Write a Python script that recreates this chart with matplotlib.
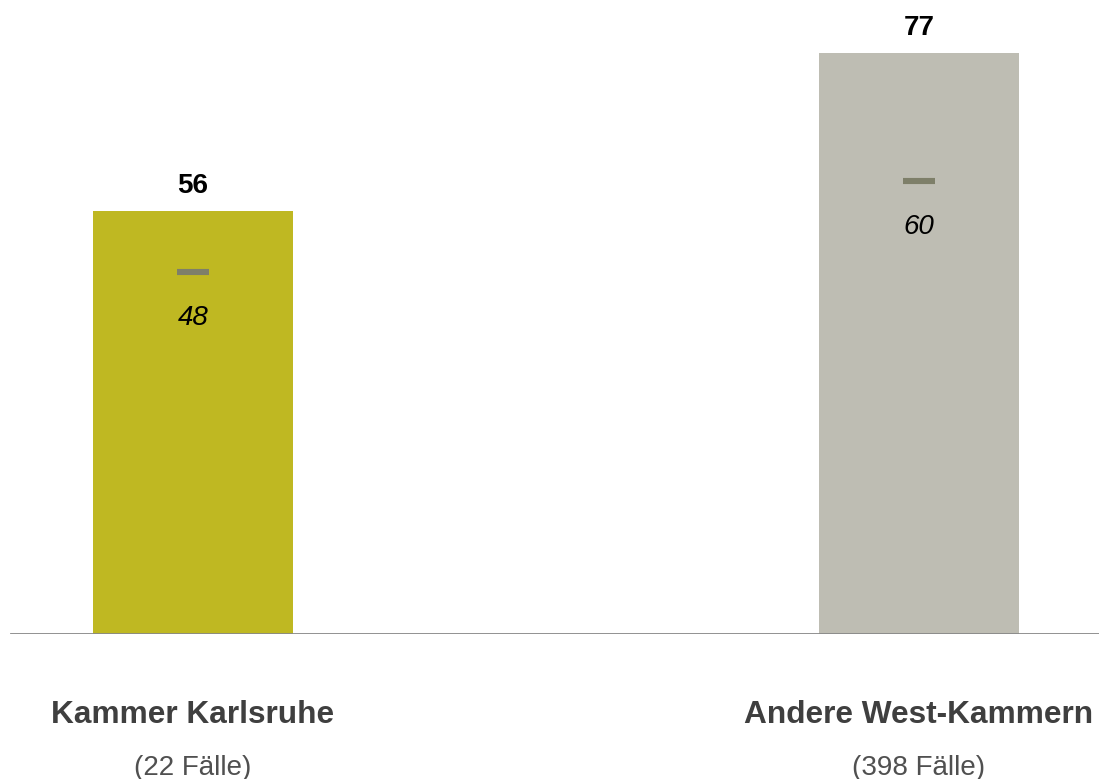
import matplotlib.pyplot as plt

plt.rcParams['font.family'] = ['Liberation Sans', 'DejaVu Sans']

categories = ['Kammer Karlsruhe', 'Andere West-Kammern']
cases = ['(22 Fälle)', '(398 Fälle)']
values = [56, 77]
medians = [48, 60]
colors = ['#bfb822', '#bebdb3']

fig = plt.figure(figsize=(10.99, 7.79), dpi=100)
ax = fig.add_axes([0, 1 - 634 / 779, 1, 634 / 779])

x = list(range(len(categories)))
ax.bar(x, values, width=200 / 726, color=colors)
ax.plot(x, medians, linestyle='none', marker='_', markersize=23,
        markeredgewidth=4.4, color='#7e7f69')

for xi, v, m in zip(x, values, medians):
    ax.annotate(str(v), (xi, v), xytext=(0, 13), textcoords='offset points',
                ha='center', va='baseline', fontsize=20, fontweight='bold')
    ax.annotate(str(m), (xi, m), xytext=(0, -38.5), textcoords='offset points',
                ha='center', va='baseline', fontsize=20, fontstyle='italic')

tr = ax.get_xaxis_transform()
for xi, cat, n in zip(x, categories, cases):
    ax.text(xi, -81 / 634, cat, transform=tr, ha='center', va='center',
            fontsize=22.8, fontweight='bold', color='#3f3f3f')
    ax.text(xi, -134 / 634, n, transform=tr, ha='center', va='center',
            fontsize=20, color='#505050')

ax.axhline(0, xmin=11 / 1099, xmax=1, color='#888888', linewidth=2)
ax.set_xlim(-193 / 726, 1 + 180 / 726)
ax.set_ylim(0, 634 / 7.55)
ax.axis('off')

fig.savefig('out.png', dpi=100)
